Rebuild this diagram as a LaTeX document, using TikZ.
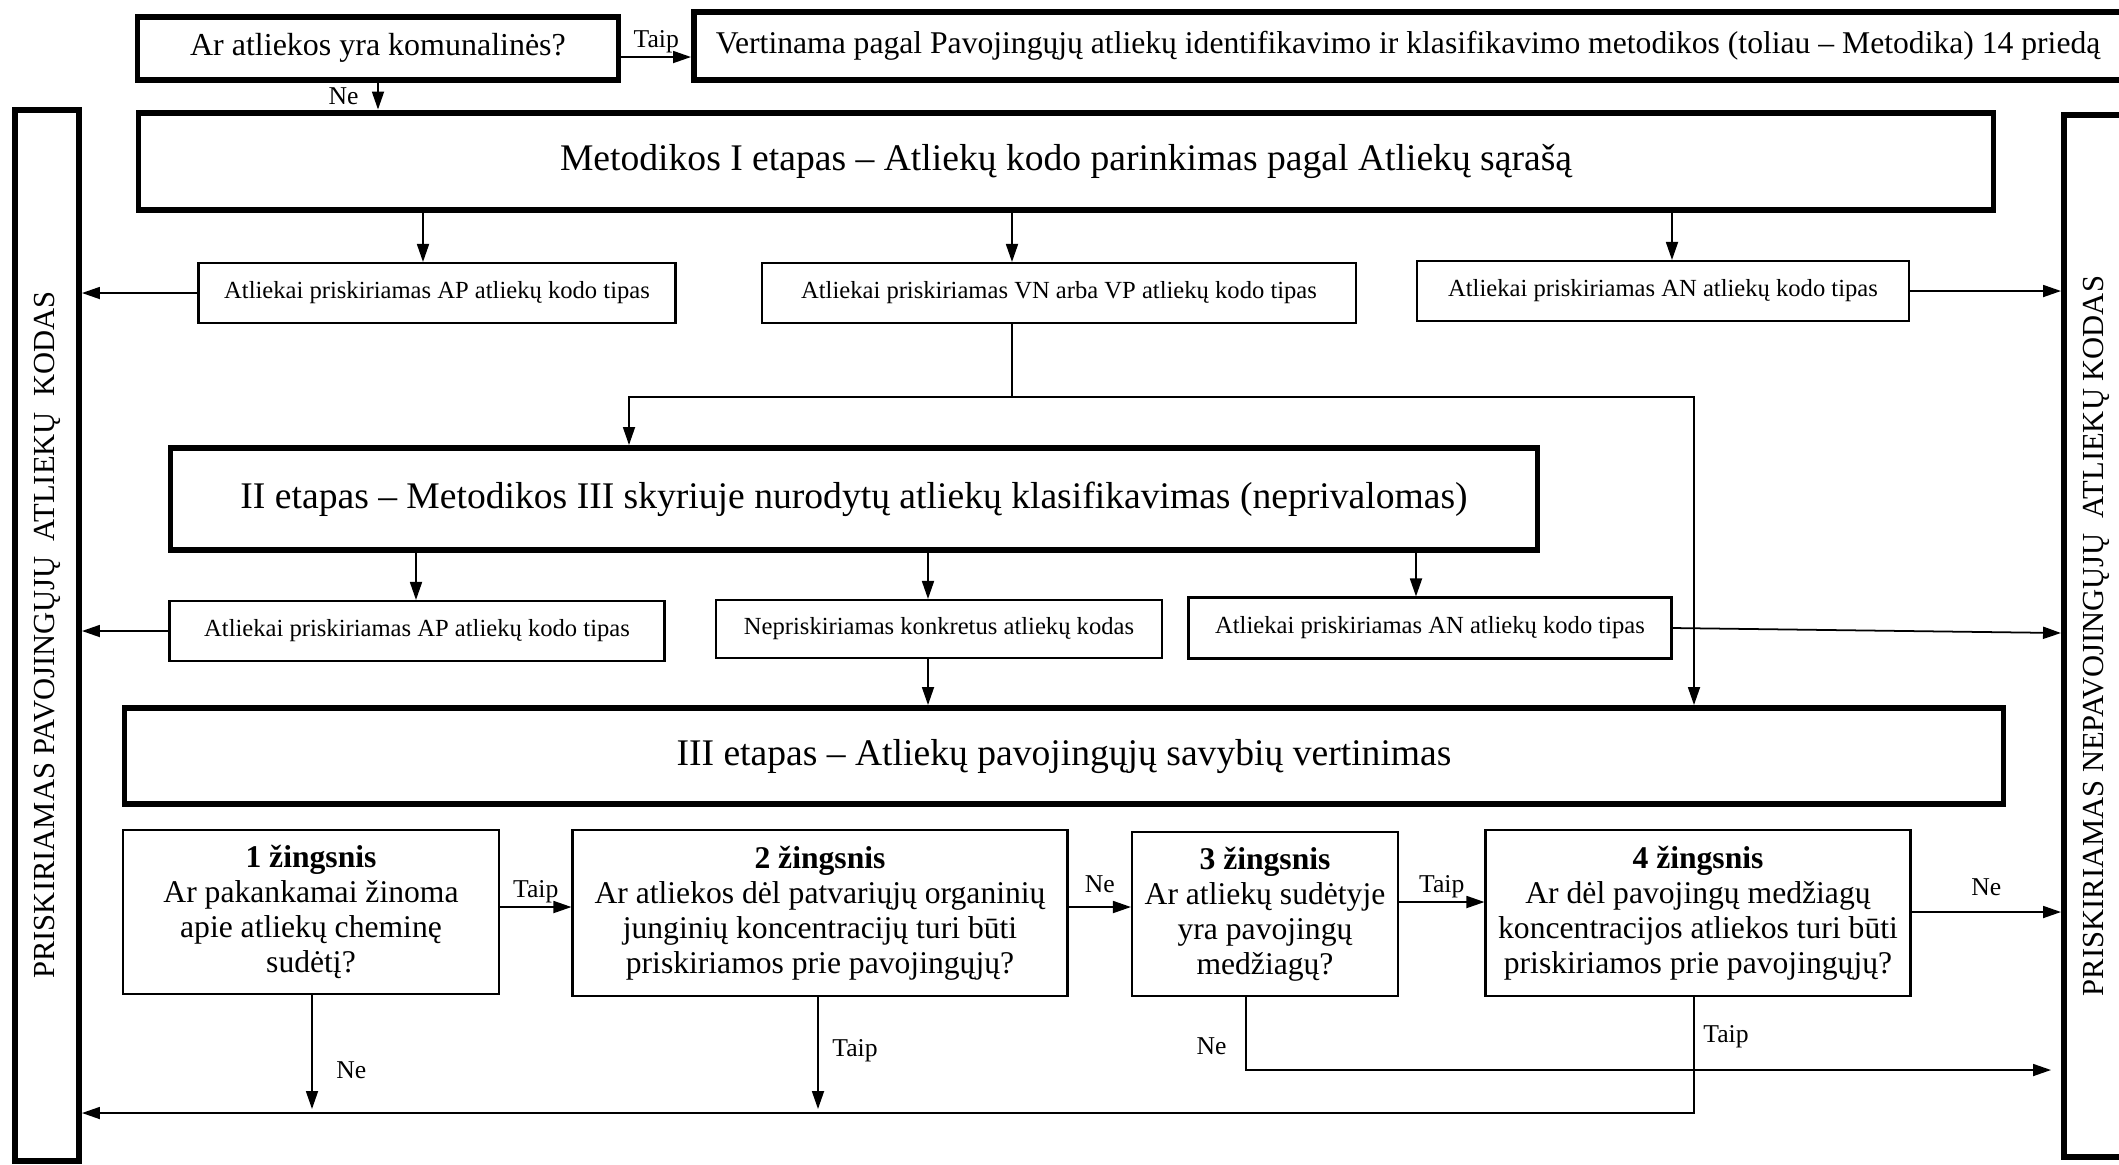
\documentclass[tikz,border=0pt]{standalone}
\usepackage{fontspec}
\setmainfont{Liberation Serif}
\usetikzlibrary{arrows.meta, positioning}

\begin{document}
\begin{tikzpicture}[
		x=0.1mm, y=-0.1mm,
		>={Triangle[length=1.8mm, width=1.2mm]},
		stage/.style={
			draw, line width=1.7pt, inner sep=0pt, align=center,
			font=\fontsize{10.7}{13}\selectfont
		},
		outcome/.style={
			draw, line width=0.6pt, inner sep=0pt, align=center,
			font=\fontsize{7}{8.5}\selectfont
		},
		stepbox/.style={
			draw, line width=0.6pt, inner sep=0pt, align=center,
			font=\fontsize{9}{10}\selectfont
		},
		sidebox/.style={
			draw, line width=1.7pt, inner sep=0pt, rotate=90,
			minimum height=6.4mm, font=\fontsize{8.7}{10}\selectfont
		},
		arrow/.style={->, line width=0.5pt},
		lbl/.style={font=\fontsize{7.3}{8}\selectfont, inner sep=1pt}
		]
		
		\useasboundingbox (0,0) rectangle (2119,1164);
		
		% Top question and the two side results
		\node[stage, minimum width=48.1mm, minimum height=6.3mm, font=\fontsize{9.1}{11}\selectfont] (komunal) at (378,48) {Ar atliekos yra komunalinės?};
		\node[stage, minimum width=142.8mm, minimum height=6.8mm, font=\fontsize{9}{10}\selectfont] (metod14) at (1408,46) {Vertinama pagal Pavojingųjų atliekų identifikavimo ir klasifikavimo metodikos (toliau – Metodika) 14 priedą};
		\node[sidebox, minimum width=105.1mm] (pavoj) at (47,635) {PRISKIRIAMAS PAVOJINGŲJŲ~~ATLIEKŲ~~KODAS};
		\node[sidebox, minimum width=104.2mm] (nepavoj) at (2096,636) {PRISKIRIAMAS NEPAVOJINGŲJŲ~~ATLIEKŲ KODAS};
		
		% Stage I
		\node[stage, minimum width=185.5mm, minimum height=9.7mm] (etapas1) at (1066,161) {Metodikos I etapas – Atliekų kodo parinkimas pagal Atliekų sąrašą};
		\node[outcome, minimum width=47.7mm, minimum height=6mm] (apI) at (437,293) {Atliekai priskiriamas AP atliekų kodo tipas};
		\node[outcome, minimum width=59.4mm, minimum height=6mm] (vnvp) at (1059,293) {Atliekai priskiriamas VN arba VP atliekų kodo tipas};
		\node[outcome, minimum width=49.2mm, minimum height=6mm] (anI) at (1663,291) {Atliekai priskiriamas AN atliekų kodo tipas};
		
		% Stage II
		\node[stage, minimum width=136.7mm, minimum height=10.2mm] (etapas2) at (854,499) {II etapas – Metodikos III skyriuje nurodytų atliekų klasifikavimas (neprivalomas)};
		\node[outcome, minimum width=49.5mm, minimum height=6mm] (apII) at (417,631) {Atliekai priskiriamas AP atliekų kodo tipas};
		\node[outcome, minimum width=44.6mm, minimum height=5.8mm] (nepr) at (939,629) {Nepriskiriamas konkretus atliekų kodas};
		\node[outcome, minimum width=48.3mm, minimum height=6.1mm] (anII) at (1430,628) {Atliekai priskiriamas AN atliekų kodo tipas};
		
		% Stage III and its steps
		\node[stage, minimum width=187.9mm, minimum height=9.6mm] (etapas3) at (1064,756) {III etapas – Atliekų pavojingųjų savybių vertinimas};
		\node[stepbox, minimum width=37.6mm, minimum height=16.4mm] (s1) at (311,912) {\textbf{1 žingsnis}\\Ar pakankamai žinoma\\apie atliekų cheminę\\sudėtį?};
		\node[stepbox, minimum width=49.5mm, minimum height=16.6mm] (s2) at (820,913) {\textbf{2 žingsnis}\\Ar atliekos dėl patvariųjų organinių\\junginių koncentracijų turi būti\\priskiriamos prie pavojingųjų?};
		\node[stepbox, minimum width=26.6mm, minimum height=16.4mm] (s3) at (1265,914) {\textbf{3 žingsnis}\\Ar atliekų sudėtyje\\yra pavojingų\\medžiagų?};
		\node[stepbox, minimum width=42.5mm, minimum height=16.6mm] (s4) at (1698,913) {\textbf{4 žingsnis}\\Ar dėl pavojingų medžiagų\\koncentracijos atliekos turi būti\\priskiriamos prie pavojingųjų?};
		
		% --- Connectors ---
		
		% Municipal waste question
		\draw[arrow] ([yshift=-0.9mm]komunal.east) -- ([yshift=-0.9mm]komunal.east -| metod14.west) node[midway, above, lbl] {Taip};
		\draw[arrow] (komunal.south) -- (komunal.south |- etapas1.north) node[pos=0.5, left=1.5mm, lbl] {Ne};
		
		% Stage I results
		\draw[arrow] (423,0 |- etapas1.south) -- (423,0 |- apI.north);
		\draw[arrow] (1012,0 |- etapas1.south) -- (1012,0 |- vnvp.north);
		\draw[arrow] (1672,0 |- etapas1.south) -- (1672,0 |- anI.north);
		\draw[arrow] (apI.west) -- (apI.west -| pavoj.south);
		\draw[arrow] (anI.east) -- (anI.east -| nepavoj.north);
		
		% VN / VP goes on to stage II or straight to stage III
		\coordinate (split) at (1012,397);
		\coordinate (toII) at (629,397);
		\coordinate (toIII) at (1694,397);
		\draw (split |- vnvp.south) -- (split);
		\draw[arrow] (split) -- (toII) -- (toII |- etapas2.north);
		\draw[arrow] (split) -- (toIII) -- (toIII |- etapas3.north);
		
		% Stage II results
		\draw[arrow] (416,0 |- etapas2.south) -- (416,0 |- apII.north);
		\draw[arrow] (928,0 |- etapas2.south) -- (928,0 |- nepr.north);
		\draw[arrow] (1416,0 |- etapas2.south) -- (1416,0 |- anII.north);
		\draw[arrow] (apII.west) -- (apII.west -| pavoj.south);
		\draw[arrow] (anII.east) -- ([yshift=-0.5mm]anII.east -| nepavoj.north);
		\draw[arrow] (928,0 |- nepr.south) -- (928,0 |- etapas3.north);
		
		% Steps of stage III
		\draw[arrow] (s1.east |- 0,907) -- (s2.west |- 0,907) node[midway, above, lbl] {Taip};
		\draw[arrow] (s2.east |- 0,907) -- (s3.west |- 0,907) node[midway, above=1mm, lbl] {Ne};
		\draw[arrow] (s3.east |- 0,902) -- (s4.west |- 0,902) node[midway, above, lbl] {Taip};
		\draw[arrow] (s4.east |- 0,912) -- (nepavoj.north |- 0,912) node[midway, above=1.2mm, lbl] {Ne};
		
		% Answers leading down to the side results
		\draw[arrow] (312,0 |- s1.south) -- (312,1109) node[pos=0.66, right=2mm, lbl] {Ne};
		\draw[arrow] (818,0 |- s2.south) -- (818,1109) node[pos=0.48, right=1mm, lbl] {Taip};
		\draw[arrow] (1246,0 |- s3.south) -- node[pos=0.68, left=1.5mm, lbl] {Ne} (1246,1070) -- (2051,1070);
		\draw[arrow] (1694,0 |- s4.south) -- node[pos=0.34, right=0.5mm, lbl] {Taip} (1694,1113) -- (pavoj.south |- 0,1113);
		
	\end{tikzpicture}
\end{document}
